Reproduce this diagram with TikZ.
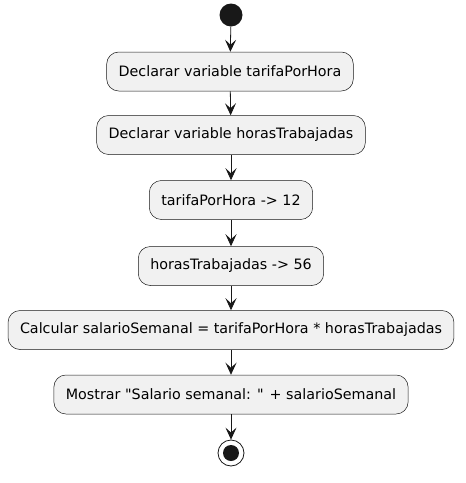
\documentclass[tikz,border=0pt]{standalone}
\usepackage{fontspec}
\setmainfont{DejaVu Sans}
\usetikzlibrary{arrows.meta}
\definecolor{actfill}{HTML}{F1F1F1}
\definecolor{actline}{HTML}{181818}
\begin{document}
\begin{tikzpicture}[
    x=1pt, y=1pt,
    action/.style={rectangle, rounded corners=12pt, draw=actline, fill=actfill, line width=0.5pt,
        minimum height=39pt, inner xsep=12pt, font=\fontsize{14.3}{16}\selectfont},
    startnode/.style={circle, fill=actline, minimum size=23pt, inner sep=0pt},
    stopnode/.style={circle, draw=actline, fill=white, line width=0.8pt, minimum size=26pt, inner sep=0pt},
    flow/.style={-{Stealth[length=12pt, width=11pt, inset=5pt]}, line width=0.8pt, draw=actline}
]
\useasboundingbox (0,0) rectangle (466,-483);

\node[startnode] (start) at (231,-15) {};
\node[action] (decTarifa) at (230,-71.5) {Declarar variable tarifaPorHora};
\node[action] (decHoras) at (231,-135) {Declarar variable horasTrabajadas};
\node[action] (setTarifa) at (231,-200) {tarifaPorHora -> 12};
\node[action] (setHoras) at (231,-266) {horasTrabajadas -> 56};
\node[action] (calc) at (231,-330) {Calcular salarioSemanal = tarifaPorHora * horasTrabajadas};
\node[action] (show) at (231,-394.5) {Mostrar \textquotedbl Salario semanal: \textquotedbl{} + salarioSemanal};
\node[stopnode] (stop) at (231,-453) {};
\fill[actline] (stop) circle (8pt);

\draw[flow] (start) -- (decTarifa);
\draw[flow] (decTarifa) -- (decHoras);
\draw[flow] (decHoras) -- (setTarifa);
\draw[flow] (setTarifa) -- (setHoras);
\draw[flow] (setHoras) -- (calc);
\draw[flow] (calc) -- (show);
\draw[flow] (show) -- (stop);

\end{tikzpicture}
\end{document}
